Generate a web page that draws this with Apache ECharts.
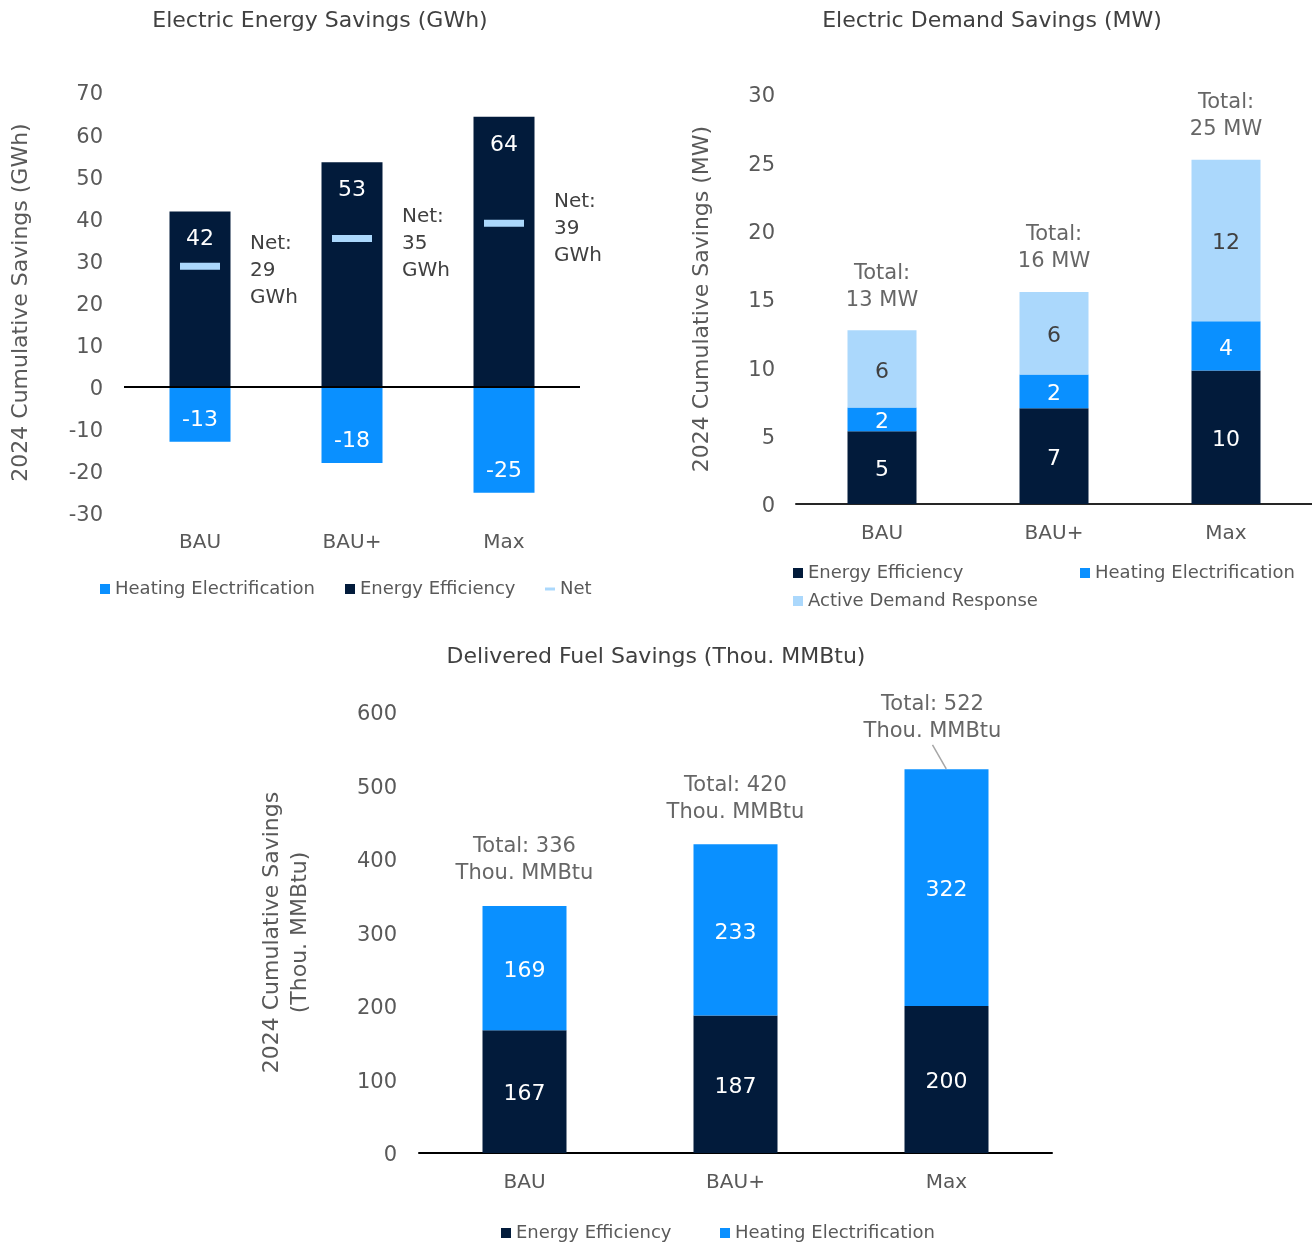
<!DOCTYPE html>
<html>
<head>
<meta charset="utf-8">
<script src="https://cdn.jsdelivr.net/npm/echarts@6/dist/echarts.min.js"></script>
<style>
html,body{margin:0;padding:0;background:#fff;}
#main{width:1312px;height:1242px;}
</style>
</head>
<body>
<div id="main"></div>
<script>
// ---------- DATA ----------
var categories = ['BAU', 'BAU+', 'Max'];

// Chart 1: Electric Energy Savings (GWh)
var energyEE = [41.6, 53.3, 64.1];
var energyHE = [-13.1, -18.1, -25.2];
var energyNet = [28.6, 35.2, 38.8];
var energyTicks = { min: -30, max: 70, interval: 10 };

// Chart 2: Electric Demand Savings (MW)
var demandEE = [5.33, 7.01, 9.77];
var demandHE = [1.73, 2.46, 3.61];
var demandADR = [5.65, 6.05, 11.81];
var demandTicks = { min: 0, max: 30, interval: 5 };

// Chart 3: Delivered Fuel Savings (Thou. MMBtu)
var fuelEE = [167, 187, 200];
var fuelHE = [169, 233, 322];
var fuelTicks = { min: 0, max: 600, interval: 100 };

// ---------- STYLE ----------
var NAVY = '#021B3B', BLUE = '#0A90FF', LIGHT = '#ABD8FC';
var FONT = 'DejaVu Sans';
var GREY = '#595959', DARK = '#404040';

function sum(arrs) {
  return arrs[0].map(function (_, i) { return arrs.reduce(function (s, a) { return s + a[i]; }, 0); });
}
var demandTotal = sum([demandEE, demandHE, demandADR]);
var fuelTotal = sum([fuelEE, fuelHE]);

function rnd(p) { return String(Math.round(p.value)); }

var chart = echarts.init(document.getElementById('main'), null, { renderer: 'canvas' });

var titleStyle = { fontFamily: FONT, fontSize: 22, fontWeight: 'normal', color: DARK };
var tickLabel = {
  fontFamily: FONT, fontSize: 21, color: GREY,
  formatter: function (v) { return '{t|' + v + '}'; },
  rich: { t: { fontFamily: FONT, fontSize: 21, color: GREY, padding: [6, 0, 0, 0] } }
};
var catLabel = { fontFamily: FONT, fontSize: 20, color: GREY, margin: 20 };
var legendText = { fontFamily: FONT, fontSize: 18, color: GREY };
var nameStyle = { fontFamily: FONT, fontSize: 22, color: GREY, lineHeight: 28 };

function barLabel(pos, color, extra) {
  var o = { show: true, position: pos, color: color, fontSize: 22, fontFamily: FONT, formatter: rnd, offset: [0, 3] };
  if (extra) for (var k in extra) o[k] = extra[k];
  return o;
}

function legendItem(name, left, top, extra) {
  var o = {
    data: [name], left: left, top: top, padding: 0, itemWidth: 10, itemHeight: 10,
    icon: 'rect', textStyle: legendText, selectedMode: false, itemGap: 0
  };
  if (extra) for (var k in extra) o[k] = extra[k];
  return o;
}

var option = {
  animation: false,
  backgroundColor: '#fff',
  textStyle: { fontFamily: FONT },
  title: [
    { text: 'Electric Energy Savings (GWh)', left: 320, top: 10, textAlign: 'center', padding: 0, textStyle: titleStyle },
    { text: 'Electric Demand Savings (MW)', left: 992, top: 10, textAlign: 'center', padding: 0, textStyle: titleStyle },
    { text: 'Delivered Fuel Savings (Thou. MMBtu)', left: 656, top: 646, textAlign: 'center', padding: 0, textStyle: titleStyle }
  ],
  legend: [
    legendItem('Heating Electrification', 100, 580),
    legendItem('Energy Efficiency', 345, 580),
    legendItem('Net', 545, 580, { itemHeight: 3 }),
    legendItem('Energy Efficiency', 793, 564),
    legendItem('Heating Electrification', 1080, 564),
    legendItem('Active Demand Response', 793, 592),
    legendItem('Energy Efficiency', 501, 1224),
    legendItem('Heating Electrification', 720, 1224)
  ],
  grid: [
    { left: 124, top: 92, width: 456, height: 421 },
    { left: 796, top: 94, width: 516, height: 410 },
    { left: 419, top: 712, width: 633, height: 441 }
  ],
  xAxis: [
    { gridIndex: 0, type: 'category', data: categories, axisLine: { show: false, onZero: false }, axisTick: { show: false }, axisLabel: catLabel },
    { gridIndex: 1, type: 'category', data: categories, axisLine: { show: true, lineStyle: { color: '#262626', width: 2 } }, axisTick: { show: false }, axisLabel: catLabel },
    { gridIndex: 2, type: 'category', data: categories, axisLine: { show: true, lineStyle: { color: '#000', width: 2 } }, axisTick: { show: false }, axisLabel: catLabel }
  ],
  yAxis: [
    { gridIndex: 0, type: 'value', min: energyTicks.min, max: energyTicks.max, interval: energyTicks.interval,
      splitLine: { show: false }, axisLine: { show: false }, axisTick: { show: false },
      axisLabel: Object.assign({ margin: 21 }, tickLabel),
      name: '2024 Cumulative Savings (GWh)', nameLocation: 'middle', nameGap: 89, nameTextStyle: nameStyle },
    { gridIndex: 1, type: 'value', min: demandTicks.min, max: demandTicks.max, interval: demandTicks.interval,
      splitLine: { show: false }, axisLine: { show: false }, axisTick: { show: false },
      axisLabel: Object.assign({ margin: 21 }, tickLabel),
      name: '2024 Cumulative Savings (MW)', nameLocation: 'middle', nameGap: 80, nameTextStyle: nameStyle },
    { gridIndex: 2, type: 'value', min: fuelTicks.min, max: fuelTicks.max, interval: fuelTicks.interval,
      splitLine: { show: false }, axisLine: { show: false }, axisTick: { show: false },
      axisLabel: Object.assign({ margin: 22 }, tickLabel),
      name: '2024 Cumulative Savings\n(Thou. MMBtu)', nameLocation: 'middle', nameGap: 105, nameTextStyle: nameStyle }
  ],
  series: [
    // ---- Chart 1 ----
    { name: 'Energy Efficiency', type: 'bar', xAxisIndex: 0, yAxisIndex: 0, stack: 'e', barWidth: 61,
      data: energyEE, itemStyle: { color: NAVY },
      label: barLabel('insideTop', '#fff', { distance: 14 }),
      markLine: { silent: true, symbol: 'none', label: { show: false }, lineStyle: { color: '#000', width: 2, type: 'solid' }, data: [{ yAxis: 0 }] } },
    { name: 'Heating Electrification', type: 'bar', xAxisIndex: 0, yAxisIndex: 0, stack: 'e', barWidth: 61,
      data: energyHE, itemStyle: { color: BLUE },
      label: barLabel('insideBottom', '#fff', { distance: 14 }) },
    { name: 'Net', type: 'scatter', xAxisIndex: 0, yAxisIndex: 0, symbol: 'rect', symbolSize: [40, 7], z: 5,
      data: energyNet, itemStyle: { color: LIGHT, opacity: 1 },
      label: { show: true, position: 'right', distance: 30, offset: [0, 5], color: DARK, fontSize: 20, fontFamily: FONT, lineHeight: 27, align: 'left',
        formatter: function (p) { return 'Net:\n' + Math.round(p.value) + '\nGWh'; } } },
    // ---- Chart 2 ----
    { name: 'Energy Efficiency', type: 'bar', xAxisIndex: 1, yAxisIndex: 1, stack: 'd', barWidth: 69,
      data: demandEE, itemStyle: { color: NAVY }, label: barLabel('inside', '#fff') },
    { name: 'Heating Electrification', type: 'bar', xAxisIndex: 1, yAxisIndex: 1, stack: 'd', barWidth: 69,
      data: demandHE, itemStyle: { color: BLUE }, label: barLabel('inside', '#fff') },
    { name: 'Active Demand Response', type: 'bar', xAxisIndex: 1, yAxisIndex: 1, stack: 'd', barWidth: 69,
      data: demandADR, itemStyle: { color: LIGHT }, label: barLabel('inside', DARK) },
    { name: 'Total MW', type: 'scatter', xAxisIndex: 1, yAxisIndex: 1, symbol: 'circle', symbolSize: 1, z: 5,
      data: demandTotal, itemStyle: { color: 'rgba(0,0,0,0)' },
      label: { show: true, position: 'top', distance: 18, offset: [0, 2], color: DARK, fontSize: 21, fontFamily: FONT, lineHeight: 27,
        formatter: function (p) { return 'Total:\n' + Math.round(p.value) + ' MW'; } } },
    // ---- Chart 3 ----
    { name: 'Energy Efficiency', type: 'bar', xAxisIndex: 2, yAxisIndex: 2, stack: 'f', barWidth: 84,
      data: fuelEE, itemStyle: { color: NAVY }, label: barLabel('inside', '#fff') },
    { name: 'Heating Electrification', type: 'bar', xAxisIndex: 2, yAxisIndex: 2, stack: 'f', barWidth: 84,
      data: fuelHE, itemStyle: { color: BLUE }, label: barLabel('inside', '#fff') },
    { name: 'Total Fuel', type: 'scatter', xAxisIndex: 2, yAxisIndex: 2, symbol: 'circle', symbolSize: 1, z: 5,
      data: fuelTotal.map(function (v, i) {
        return i === 2 ? { value: v, labelLine: { show: true, lineStyle: { color: '#A6A6A6', width: 1.5 } } } : v;
      }),
      itemStyle: { color: 'rgba(0,0,0,0)' },
      labelLayout: function (p) { return p.dataIndex === 2 ? { dx: -14, dy: -6 } : {}; },
      label: { show: true, position: 'top', distance: 18, offset: [0, 2], color: DARK, fontSize: 21, fontFamily: FONT, lineHeight: 27,
        formatter: function (p) { return 'Total: ' + Math.round(p.value) + '\nThou. MMBtu'; } } }
  ]
};
chart.setOption(option);
</script>
</body>
</html>
